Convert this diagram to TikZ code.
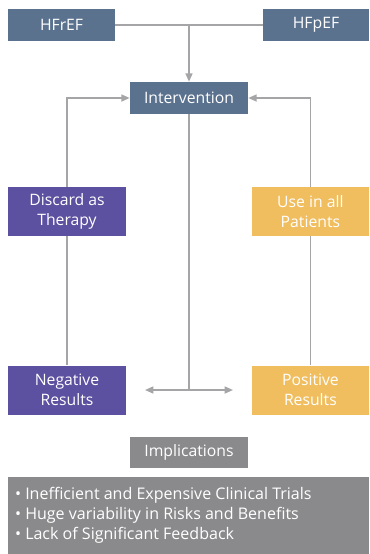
\documentclass[tikz,border=0pt]{standalone}
\usepackage{fontspec}
\setmainfont{Open Sans}
\usepackage{tikz}
\usetikzlibrary{arrows.meta, positioning}
\definecolor{slatecolor}{RGB}{91, 114, 143}
\definecolor{negcolor}{RGB}{92, 80, 160}
\definecolor{poscolor}{RGB}{240, 190, 95}
\definecolor{implcolor}{RGB}{138, 138, 140}
\definecolor{linkcolor}{RGB}{165, 165, 167}

\begin{document}
\begin{tikzpicture}[
    box/.style={fill=#1, text=white, minimum height=0.8cm, font=\fontsize{11.2}{14.2}\selectfont, align=center, inner sep=0pt},
    tallbox/.style={box=#1, minimum height=1.225cm},
    link/.style={draw=linkcolor, line width=1.1pt},
    tip/.style={link, -{Triangle[length=6pt, width=5pt]}}
]
    \useasboundingbox (0,0) rectangle (9.225,-13.85);

    % Phenotypes
    \node[box=slatecolor, minimum width=2.675cm] (hfref) at (1.54, -0.625) {HFrEF};
    \node[box=slatecolor, minimum width=2.65cm] (hfpef) at (7.9, -0.625) {HFpEF};

    % Intervention
    \node[box=slatecolor, minimum width=2.95cm] (interv) at (4.725, -2.45) {Intervention};

    % Outcomes
    \node[tallbox=negcolor, minimum width=2.95cm] (discard) at (1.675, -5.29) {Discard as\\Therapy};
    \node[tallbox=poscolor, minimum width=2.925cm] (useall) at (7.76, -5.29) {Use in all\\Patients};
    \node[tallbox=negcolor, minimum width=2.95cm] (negres) at (1.675, -9.75) {Negative\\Results};
    \node[tallbox=poscolor, minimum width=2.925cm] (posres) at (7.76, -9.75) {Positive\\Results};

    % Implications
    \node[box=implcolor, minimum width=2.95cm, minimum height=0.775cm] (impl) at (4.725, -11.3) {Implications};
    \node[fill=implcolor, minimum width=9.025cm, minimum height=1.925cm, inner sep=0pt] (impllist) at (4.7125, -12.8875) {};
    \node[text=white, anchor=west, align=left, inner sep=0pt, font=\fontsize{11.4}{14.2}\selectfont] (impltext) at (0.37, -12.88) {%
        • Inefficient and Expensive Clinical Trials\\
        • Huge variability in Risks and Benefits\\
        • Lack of Significant Feedback};

    % Junctions
    \coordinate (merge) at (interv.north |- hfref.east);
    \coordinate (split) at (interv.south |- negres.east);
    \coordinate (splitl) at (3.625, -9.75);
    \coordinate (splitr) at (5.825, -9.75);

    % Connections
    \draw[link] (hfref) -- (hfpef);
    \draw[tip] (merge) -- (interv.north);
    \draw[tip] (discard.north) |- (interv.west);
    \draw[tip] (useall.north) |- (interv.east);
    \draw[link] (discard) -- (negres);
    \draw[link] (useall) -- (posres);
    \draw[link] (interv.south) -- (split);
    \draw[tip] (split) -- (splitl);
    \draw[tip] (split) -- (splitr);

\end{tikzpicture}
\end{document}
